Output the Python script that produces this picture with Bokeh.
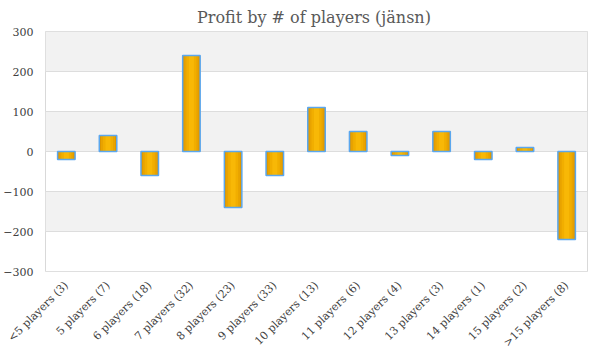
import math
from bokeh.plotting import figure
from bokeh.models import ColumnDataSource, FixedTicker, Range1d
from bokeh.embed import file_html
from bokeh.resources import INLINE

categories = ["<5 players (3)", "5 players (7)", "6 players (18)", "7 players (32)",
              "8 players (23)", "9 players (33)", "10 players (13)", "11 players (6)",
              "12 players (4)", "13 players (3)", "14 players (1)", "15 players (2)",
              ">15 players (8)"]
profit = [-20, 40, -60, 240, -140, -60, 110, 50, -10, 50, -20, 10, -220]
y_ticks = [-300, -200, -100, 0, 100, 200, 300]
grid_ticks = [-400] + y_ticks

src = ColumnDataSource(dict(cat=categories, profit=profit))

p = figure(x_range=categories, y_range=Range1d(-300, 300),
           frame_width=542, frame_height=240,
           output_backend="svg", toolbar_location=None,
           title="Profit by # of players  (jänsn)",
           min_border_left=32, min_border_right=10, min_border_top=4, min_border_bottom=4)

p.title.align = "center"
p.title.text_font = "DejaVu Serif"
p.title.text_font_style = "normal"
p.title.text_font_size = "16px"
p.title.text_color = "#595959"

# gradient-like bars
layers = [(0.42, "#dc9500"), (0.34, "#e8a300"), (0.24, "#f1ae00"), (0.12, "#f8b806")]
for w, c in layers:
    p.vbar(x="cat", top="profit", bottom=0, width=w, source=src, fill_color=c, line_color=None)
p.vbar(x="cat", top="profit", bottom=0, width=0.42, source=src, fill_color=None,
       line_color="#5ba7ee", line_width=1.5)

p.outline_line_color = "#d9d9d9"
p.xgrid.grid_line_color = None
p.ygrid.grid_line_color = "#dddddd"
p.ygrid.ticker = FixedTicker(ticks=grid_ticks)
p.ygrid.band_fill_color = "#f2f2f2"
p.ygrid.band_fill_alpha = 1.0

p.yaxis.ticker = FixedTicker(ticks=y_ticks)
p.yaxis.axis_line_color = None
p.yaxis.major_tick_line_color = None
p.yaxis.minor_tick_line_color = None
p.yaxis.major_label_text_font = "DejaVu Serif"
p.yaxis.major_label_text_font_size = "11px"
p.yaxis.major_label_text_color = "#404040"
p.yaxis.major_label_standoff = 6

p.xaxis.axis_line_color = None
p.xaxis.major_tick_line_color = None
p.xaxis.major_label_orientation = math.pi / 4
p.xaxis.major_label_text_font = "DejaVu Serif"
p.xaxis.major_label_text_font_size = "11px"
p.xaxis.major_label_text_color = "#404040"
p.xaxis.major_label_standoff = 6

open("out.html", "w").write(file_html(p, INLINE))
